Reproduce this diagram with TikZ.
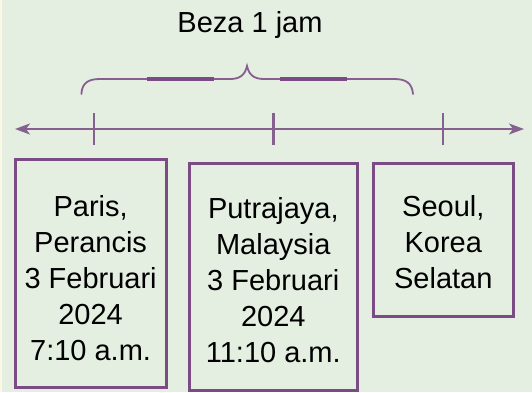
\documentclass[tikz,border=0pt]{standalone}
\usepackage{fontspec}
\setmainfont{Liberation Sans}
\usetikzlibrary{arrows.meta}
\definecolor{bg}{HTML}{E4EFE2}
\definecolor{strip}{HTML}{FBF8E6}
\definecolor{purp}{HTML}{7B4B84}
\definecolor{axisc}{HTML}{86608F}
\tikzset{
  box/.style={draw=purp, line width=3pt, inner sep=0pt},
  txt/.style={align=center, inner sep=0pt, font=\fontsize{29}{36}\selectfont, text=black},
  axisline/.style={draw=axisc, line width=2pt},
  tickline/.style={draw=axisc, line width=2.5pt},
  bracethin/.style={draw=purp!90!white, line width=1.8pt},
  bracethick/.style={draw=purp, line width=3.5pt},
}
\begin{document}
\begin{tikzpicture}[x=1pt,y=-1pt]
\fill[bg] (0,0) rectangle (532,392);
\fill[strip] (0,0) rectangle (2,392);
\useasboundingbox (0,0) rectangle (532,392);

% title
\node[txt] (title) at (250,25) {Beza 1 jam};

% brace
\draw[bracethin, line cap=round] (81.4,94) .. controls (82,83) and (88,79) .. (100,79) -- (230,79)
  .. controls (240,79) and (245,75) .. (247,66)
  .. controls (249,75) and (254,79) .. (264,79) -- (394,79)
  .. controls (406,79) and (412,83) .. (413,94);
\draw[bracethick] (147,79) -- (214,79);
\draw[bracethick] (280,79) -- (347,79);

% axis
\coordinate (la) at (15,129);
\coordinate (ra) at (524,129);
\draw[axisline, {Stealth[length=15pt,width=11pt,inset=4pt]}-{Stealth[length=15pt,width=11pt,inset=4pt]}] (la) -- (ra);
\coordinate (t1a) at (94,113); \coordinate (t1b) at (94,145);
\coordinate (t2a) at (273.5,113); \coordinate (t2b) at (273.5,145);
\coordinate (t3a) at (443,113); \coordinate (t3b) at (443,145);
\draw[tickline] (t1a) -- (t1b);
\draw[tickline] (t2a) -- (t2b);
\draw[tickline] (t3a) -- (t3b);

% boxes
\node[box, minimum width=151pt, minimum height=228pt] (b1) at (90.6,273.5) {};
\node[box, minimum width=168.5pt, minimum height=227pt] (b2) at (273.3,277.3) {};
\node[box, minimum width=140.5pt, minimum height=153pt] (b3) at (443.3,240) {};

\node[txt] (t1) at (90.6,278) {Paris,\\Perancis\\3 Februari\\2024\\7:10 a.m.};
\node[txt] (t2) at (273.3,280.5) {Putrajaya,\\Malaysia\\3 Februari\\2024\\11:10 a.m.};
\node[txt] (t3) at (443.3,242) {Seoul,\\Korea\\Selatan};
\end{tikzpicture}
\end{document}
